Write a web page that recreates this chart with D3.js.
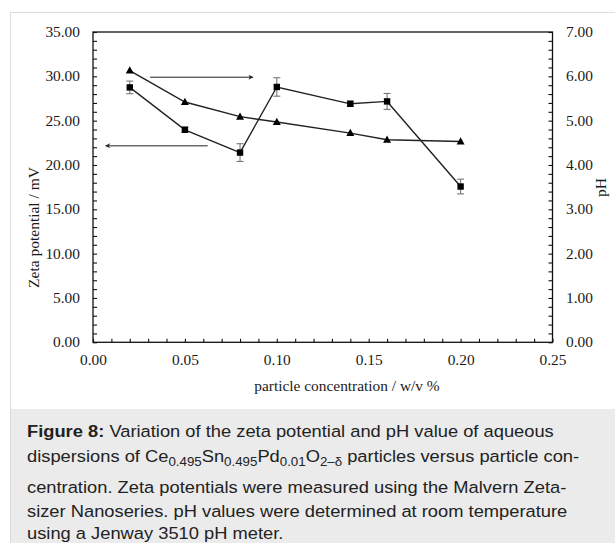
<!DOCTYPE html>
<html>
<head>
<meta charset="utf-8">
<script src="https://cdn.jsdelivr.net/npm/d3@7"></script>
<style>
  html, body { margin: 0; padding: 0; background: #fff; }
  svg { display: block; }
</style>
</head>
<body>
<svg id="chart" width="615" height="543"></svg>
<script>
// ---- data ----
const concentration = [0.02, 0.05, 0.08, 0.10, 0.14, 0.16, 0.20];
const zeta          = [28.75, 23.97, 21.40, 28.80, 26.90, 27.17, 17.57];
const zetaErr       = [0.71, 0.30, 1.00, 1.04, 0.30, 0.90, 0.83];
const pH            = [6.13, 5.42, 5.09, 4.97, 4.72, 4.57, 4.53];
const xTickValues   = [0, 0.05, 0.10, 0.15, 0.20, 0.25];
const zetaTickValues = [0, 5, 10, 15, 20, 25, 30, 35];
const pHTickValues  = [0, 1, 2, 3, 4, 5, 6, 7];
// arrows: [x start, x end, zeta level]
const arrowFrom = [0.031, 0.0624];
const arrowTo   = [0.087, 0.0069];
const arrowAt   = [29.9, 22.16];
const xTitle = "particle concentration / w/v %";
const yTitle = "Zeta potential / mV";
const y2Title = "pH";

// ---- layout ----
const L = 93, R = 552.5, T = 32, B = 342.3;
const svg = d3.select("#chart");
const serif = "'Liberation Serif', 'Times New Roman', serif";
const sans = "'Liberation Sans', Arial, Helvetica, sans-serif";
const SX = 1.1; // horizontal stretch of text in the reference

const x = d3.scaleLinear().domain([0, 0.25]).range([L, R]);
const yL = d3.scaleLinear().domain([0, 35]).range([B, T]);
const yR = d3.scaleLinear().domain([0, 7]).range([B, T]);

// figure frame
svg.append("line").attr("x1", 10.5).attr("x2", 615).attr("y1", 12.5).attr("y2", 12.5)
  .attr("stroke", "#dcdcdc").attr("stroke-width", 1);
svg.append("line").attr("x1", 10.5).attr("x2", 10.5).attr("y1", 12.5).attr("y2", 543)
  .attr("stroke", "#dcdcdc").attr("stroke-width", 1);

// caption background
svg.append("rect").attr("x", 11).attr("y", 409).attr("width", 604).attr("height", 134)
  .attr("fill", "#ebebeb");

function stretch(sel, sx) {
  sel.each(function () {
    const t = d3.select(this);
    const ax = +t.attr("x") || 0;
    t.attr("transform", `translate(${ax},0) scale(${sx},1) translate(${-ax},0)`);
  });
}

const fmt = d => d.toFixed(2);

// bottom axis
const gx = svg.append("g").attr("transform", `translate(0,${B})`)
  .call(d3.axisBottom(x).tickValues(d3.range(0, 0.2501, 0.01)).tickSize(-3.5).tickPadding(13)
    .tickFormat(d => {
      const m = xTickValues.find(v => Math.abs(v - d) < 1e-6);
      return m === undefined ? "" : fmt(m);
    }));
// left axis
const gyl = svg.append("g").attr("transform", `translate(${L},0)`)
  .call(d3.axisLeft(yL).tickValues(d3.range(0, 35.001, 1)).tickSize(-4).tickPadding(13)
    .tickFormat(d => {
      const m = zetaTickValues.find(v => Math.abs(v - d) < 1e-6);
      return m === undefined ? "" : fmt(m);
    }));
// right axis
const gyr = svg.append("g").attr("transform", `translate(${R},0)`)
  .call(d3.axisRight(yR).tickValues(d3.range(0, 7.001, 0.2)).tickSize(-4).tickPadding(13.5)
    .tickFormat(d => {
      const m = pHTickValues.find(v => Math.abs(v - d) < 1e-6);
      return m === undefined ? "" : fmt(m);
    }));

[gx, gyl, gyr].forEach(g => {
  g.select(".domain").remove();
  g.selectAll(".tick line").attr("stroke", "#111").attr("stroke-width", 1.1);
  g.selectAll(".tick text").attr("fill", "#1a1a1a").attr("font-family", serif).attr("font-size", 14);
  stretch(g.selectAll(".tick text"), SX);
});

// frame of plot
svg.append("rect").attr("x", L).attr("y", T).attr("width", R - L).attr("height", B - T)
  .attr("fill", "none").attr("stroke", "#111").attr("stroke-width", 1.3);

// axis titles
const xt = svg.append("text").attr("x", 347).attr("y", 391.5).attr("text-anchor", "middle")
  .attr("font-family", serif).attr("font-size", 14).attr("fill", "#1a1a1a").text(xTitle);
stretch(xt, SX);

svg.append("text").attr("transform", "translate(38.5,227.5) rotate(-90)")
  .attr("text-anchor", "middle").attr("font-family", serif).attr("font-size", 15.5)
  .attr("fill", "#1a1a1a").text(yTitle);
svg.append("text").attr("transform", "translate(606,187.5) rotate(-90)")
  .attr("text-anchor", "middle").attr("font-family", serif).attr("font-size", 15.5)
  .attr("fill", "#1a1a1a").text(y2Title);

// arrow marker
const defs = svg.append("defs");
defs.append("marker").attr("id", "ah").attr("viewBox", "0 0 10 10").attr("refX", 9).attr("refY", 5)
  .attr("markerWidth", 7).attr("markerHeight", 5).attr("markerUnits", "userSpaceOnUse")
  .attr("orient", "auto")
  .append("path").attr("d", "M0,0 L10,5 L0,10 L3,5 Z").attr("fill", "#222");

svg.append("g").selectAll("line").data(arrowFrom).join("line")
  .attr("x1", (d, i) => x(d)).attr("x2", (d, i) => x(arrowTo[i]))
  .attr("y1", (d, i) => yL(arrowAt[i])).attr("y2", (d, i) => yL(arrowAt[i]))
  .attr("stroke", "#222").attr("stroke-width", 1).attr("marker-end", "url(#ah)");

// zeta series
const zData = concentration.map((c, i) => ({ c, v: zeta[i], e: zetaErr[i] }));
const pData = concentration.map((c, i) => ({ c, v: pH[i] }));

// error bars
const eb = svg.append("g").attr("stroke", "#777").attr("stroke-width", 1.1);
zData.forEach(d => {
  eb.append("line").attr("x1", x(d.c)).attr("x2", x(d.c)).attr("y1", yL(d.v - d.e)).attr("y2", yL(d.v + d.e));
  [d.v - d.e, d.v + d.e].forEach(v =>
    eb.append("line").attr("x1", x(d.c) - 3.5).attr("x2", x(d.c) + 3.5).attr("y1", yL(v)).attr("y2", yL(v)));
});

svg.append("path").datum(zData)
  .attr("d", d3.line().x(d => x(d.c)).y(d => yL(d.v)))
  .attr("fill", "none").attr("stroke", "#222").attr("stroke-width", 1.4);
svg.append("path").datum(pData)
  .attr("d", d3.line().x(d => x(d.c)).y(d => yR(d.v)))
  .attr("fill", "none").attr("stroke", "#222").attr("stroke-width", 1.4);

svg.append("g").selectAll("rect").data(zData).join("rect")
  .attr("x", d => x(d.c) - 3.2).attr("y", d => yL(d.v) - 3.2)
  .attr("width", 6.4).attr("height", 6.4).attr("fill", "#000");
svg.append("g").selectAll("path").data(pData).join("path")
  .attr("transform", d => `translate(${x(d.c)},${yR(d.v)})`)
  .attr("d", "M0,-4.2 L4,3 L-4,3 Z").attr("fill", "#000");

// caption
const cap = svg.append("g").attr("font-family", sans).attr("font-size", 16.5).attr("fill", "#222");
const capX = 27;
const l1 = cap.append("text").attr("x", capX).attr("y", 437);
l1.append("tspan").attr("font-weight", "bold").text("Figure 8:");
l1.append("tspan").text(" Variation of the zeta potential and pH value of aqueous");
const l2 = cap.append("text").attr("x", capX).attr("y", 462);
l2.append("tspan").text("dispersions of Ce");
l2.append("tspan").attr("font-size", 12).attr("dy", 4).text("0.495");
l2.append("tspan").attr("dy", -4).text("Sn");
l2.append("tspan").attr("font-size", 12).attr("dy", 4).text("0.495");
l2.append("tspan").attr("dy", -4).text("Pd");
l2.append("tspan").attr("font-size", 12).attr("dy", 4).text("0.01");
l2.append("tspan").attr("dy", -4).text("O");
l2.append("tspan").attr("font-size", 12).attr("dy", 4).text("2\u2013\u03b4");
l2.append("tspan").attr("dy", -4).text(" particles versus particle con-");
cap.append("text").attr("x", capX).attr("y", 493.5).text("centration. Zeta potentials were measured using the Malvern Zeta-");
cap.append("text").attr("x", capX).attr("y", 517).text("sizer Nanoseries. pH values were determined at room temperature");
cap.append("text").attr("x", capX).attr("y", 539.5).text("using a Jenway 3510 pH meter.");
stretch(cap.selectAll("text"), 1.11);
</script>
</body>
</html>
